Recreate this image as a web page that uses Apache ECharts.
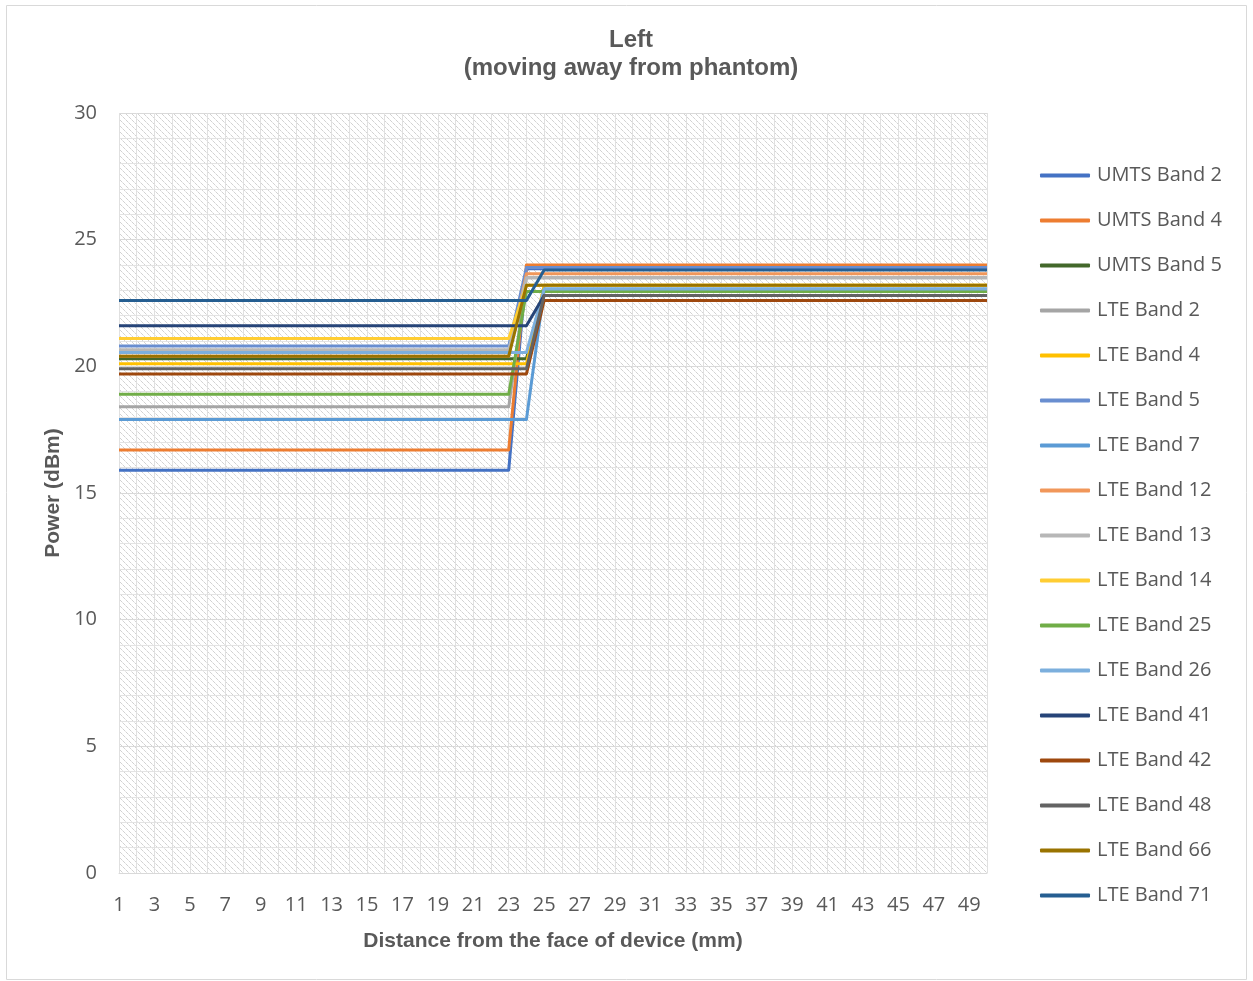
<!DOCTYPE html>
<html>
<head>
<meta charset="utf-8">
<script src="https://cdn.jsdelivr.net/npm/echarts@6/dist/echarts.min.js"></script>
<style>
  html, body { margin: 0; padding: 0; background: #ffffff; }
  #chart { width: 1253px; height: 981px; }
</style>
</head>
<body>
<div id="chart"></div>
<script>
// Distance from the face of the device, in mm
const distances = [
  1, 2, 3, 4, 5, 6, 7, 8, 9, 10,
  11, 12, 13, 14, 15, 16, 17, 18, 19, 20,
  21, 22, 23, 24, 25, 26, 27, 28, 29, 30,
  31, 32, 33, 34, 35, 36, 37, 38, 39, 40,
  41, 42, 43, 44, 45, 46, 47, 48, 49, 50
];

// Measured output power (dBm) per band at each distance
const umtsBand2 = [
  15.9, 15.9, 15.9, 15.9, 15.9, 15.9, 15.9, 15.9, 15.9, 15.9,
  15.9, 15.9, 15.9, 15.9, 15.9, 15.9, 15.9, 15.9, 15.9, 15.9,
  15.9, 15.9, 15.9, 23.85, 23.85, 23.85, 23.85, 23.85, 23.85, 23.85,
  23.85, 23.85, 23.85, 23.85, 23.85, 23.85, 23.85, 23.85, 23.85, 23.85,
  23.85, 23.85, 23.85, 23.85, 23.85, 23.85, 23.85, 23.85, 23.85, 23.85
];
const umtsBand4 = [
  16.7, 16.7, 16.7, 16.7, 16.7, 16.7, 16.7, 16.7, 16.7, 16.7,
  16.7, 16.7, 16.7, 16.7, 16.7, 16.7, 16.7, 16.7, 16.7, 16.7,
  16.7, 16.7, 16.7, 24.0, 24.0, 24.0, 24.0, 24.0, 24.0, 24.0,
  24.0, 24.0, 24.0, 24.0, 24.0, 24.0, 24.0, 24.0, 24.0, 24.0,
  24.0, 24.0, 24.0, 24.0, 24.0, 24.0, 24.0, 24.0, 24.0, 24.0
];
const umtsBand5 = [
  20.3, 20.3, 20.3, 20.3, 20.3, 20.3, 20.3, 20.3, 20.3, 20.3,
  20.3, 20.3, 20.3, 20.3, 20.3, 20.3, 20.3, 20.3, 20.3, 20.3,
  20.3, 20.3, 20.3, 20.3, 23.0, 23.0, 23.0, 23.0, 23.0, 23.0,
  23.0, 23.0, 23.0, 23.0, 23.0, 23.0, 23.0, 23.0, 23.0, 23.0,
  23.0, 23.0, 23.0, 23.0, 23.0, 23.0, 23.0, 23.0, 23.0, 23.0
];
const lteBand2 = [
  18.4, 18.4, 18.4, 18.4, 18.4, 18.4, 18.4, 18.4, 18.4, 18.4,
  18.4, 18.4, 18.4, 18.4, 18.4, 18.4, 18.4, 18.4, 18.4, 18.4,
  18.4, 18.4, 18.4, 23.5, 23.5, 23.5, 23.5, 23.5, 23.5, 23.5,
  23.5, 23.5, 23.5, 23.5, 23.5, 23.5, 23.5, 23.5, 23.5, 23.5,
  23.5, 23.5, 23.5, 23.5, 23.5, 23.5, 23.5, 23.5, 23.5, 23.5
];
const lteBand4 = [
  20.1, 20.1, 20.1, 20.1, 20.1, 20.1, 20.1, 20.1, 20.1, 20.1,
  20.1, 20.1, 20.1, 20.1, 20.1, 20.1, 20.1, 20.1, 20.1, 20.1,
  20.1, 20.1, 20.1, 20.1, 23.2, 23.2, 23.2, 23.2, 23.2, 23.2,
  23.2, 23.2, 23.2, 23.2, 23.2, 23.2, 23.2, 23.2, 23.2, 23.2,
  23.2, 23.2, 23.2, 23.2, 23.2, 23.2, 23.2, 23.2, 23.2, 23.2
];
const lteBand5 = [
  20.8, 20.8, 20.8, 20.8, 20.8, 20.8, 20.8, 20.8, 20.8, 20.8,
  20.8, 20.8, 20.8, 20.8, 20.8, 20.8, 20.8, 20.8, 20.8, 20.8,
  20.8, 20.8, 20.8, 23.9, 23.9, 23.9, 23.9, 23.9, 23.9, 23.9,
  23.9, 23.9, 23.9, 23.9, 23.9, 23.9, 23.9, 23.9, 23.9, 23.9,
  23.9, 23.9, 23.9, 23.9, 23.9, 23.9, 23.9, 23.9, 23.9, 23.9
];
const lteBand7 = [
  17.9, 17.9, 17.9, 17.9, 17.9, 17.9, 17.9, 17.9, 17.9, 17.9,
  17.9, 17.9, 17.9, 17.9, 17.9, 17.9, 17.9, 17.9, 17.9, 17.9,
  17.9, 17.9, 17.9, 17.9, 23.05, 23.05, 23.05, 23.05, 23.05, 23.05,
  23.05, 23.05, 23.05, 23.05, 23.05, 23.05, 23.05, 23.05, 23.05, 23.05,
  23.05, 23.05, 23.05, 23.05, 23.05, 23.05, 23.05, 23.05, 23.05, 23.05
];
const lteBand12 = [
  20.4, 20.4, 20.4, 20.4, 20.4, 20.4, 20.4, 20.4, 20.4, 20.4,
  20.4, 20.4, 20.4, 20.4, 20.4, 20.4, 20.4, 20.4, 20.4, 20.4,
  20.4, 20.4, 20.4, 23.65, 23.65, 23.65, 23.65, 23.65, 23.65, 23.65,
  23.65, 23.65, 23.65, 23.65, 23.65, 23.65, 23.65, 23.65, 23.65, 23.65,
  23.65, 23.65, 23.65, 23.65, 23.65, 23.65, 23.65, 23.65, 23.65, 23.65
];
const lteBand13 = [
  20.65, 20.65, 20.65, 20.65, 20.65, 20.65, 20.65, 20.65, 20.65, 20.65,
  20.65, 20.65, 20.65, 20.65, 20.65, 20.65, 20.65, 20.65, 20.65, 20.65,
  20.65, 20.65, 20.65, 23.5, 23.5, 23.5, 23.5, 23.5, 23.5, 23.5,
  23.5, 23.5, 23.5, 23.5, 23.5, 23.5, 23.5, 23.5, 23.5, 23.5,
  23.5, 23.5, 23.5, 23.5, 23.5, 23.5, 23.5, 23.5, 23.5, 23.5
];
const lteBand14 = [
  21.1, 21.1, 21.1, 21.1, 21.1, 21.1, 21.1, 21.1, 21.1, 21.1,
  21.1, 21.1, 21.1, 21.1, 21.1, 21.1, 21.1, 21.1, 21.1, 21.1,
  21.1, 21.1, 21.1, 23.2, 23.2, 23.2, 23.2, 23.2, 23.2, 23.2,
  23.2, 23.2, 23.2, 23.2, 23.2, 23.2, 23.2, 23.2, 23.2, 23.2,
  23.2, 23.2, 23.2, 23.2, 23.2, 23.2, 23.2, 23.2, 23.2, 23.2
];
const lteBand25 = [
  18.9, 18.9, 18.9, 18.9, 18.9, 18.9, 18.9, 18.9, 18.9, 18.9,
  18.9, 18.9, 18.9, 18.9, 18.9, 18.9, 18.9, 18.9, 18.9, 18.9,
  18.9, 18.9, 18.9, 22.95, 22.95, 22.95, 22.95, 22.95, 22.95, 22.95,
  22.95, 22.95, 22.95, 22.95, 22.95, 22.95, 22.95, 22.95, 22.95, 22.95,
  22.95, 22.95, 22.95, 22.95, 22.95, 22.95, 22.95, 22.95, 22.95, 22.95
];
const lteBand26 = [
  20.55, 20.55, 20.55, 20.55, 20.55, 20.55, 20.55, 20.55, 20.55, 20.55,
  20.55, 20.55, 20.55, 20.55, 20.55, 20.55, 20.55, 20.55, 20.55, 20.55,
  20.55, 20.55, 20.55, 20.55, 23.05, 23.05, 23.05, 23.05, 23.05, 23.05,
  23.05, 23.05, 23.05, 23.05, 23.05, 23.05, 23.05, 23.05, 23.05, 23.05,
  23.05, 23.05, 23.05, 23.05, 23.05, 23.05, 23.05, 23.05, 23.05, 23.05
];
const lteBand41 = [
  21.6, 21.6, 21.6, 21.6, 21.6, 21.6, 21.6, 21.6, 21.6, 21.6,
  21.6, 21.6, 21.6, 21.6, 21.6, 21.6, 21.6, 21.6, 21.6, 21.6,
  21.6, 21.6, 21.6, 21.6, 22.8, 22.8, 22.8, 22.8, 22.8, 22.8,
  22.8, 22.8, 22.8, 22.8, 22.8, 22.8, 22.8, 22.8, 22.8, 22.8,
  22.8, 22.8, 22.8, 22.8, 22.8, 22.8, 22.8, 22.8, 22.8, 22.8
];
const lteBand42 = [
  19.7, 19.7, 19.7, 19.7, 19.7, 19.7, 19.7, 19.7, 19.7, 19.7,
  19.7, 19.7, 19.7, 19.7, 19.7, 19.7, 19.7, 19.7, 19.7, 19.7,
  19.7, 19.7, 19.7, 19.7, 22.6, 22.6, 22.6, 22.6, 22.6, 22.6,
  22.6, 22.6, 22.6, 22.6, 22.6, 22.6, 22.6, 22.6, 22.6, 22.6,
  22.6, 22.6, 22.6, 22.6, 22.6, 22.6, 22.6, 22.6, 22.6, 22.6
];
const lteBand48 = [
  19.9, 19.9, 19.9, 19.9, 19.9, 19.9, 19.9, 19.9, 19.9, 19.9,
  19.9, 19.9, 19.9, 19.9, 19.9, 19.9, 19.9, 19.9, 19.9, 19.9,
  19.9, 19.9, 19.9, 19.9, 22.8, 22.8, 22.8, 22.8, 22.8, 22.8,
  22.8, 22.8, 22.8, 22.8, 22.8, 22.8, 22.8, 22.8, 22.8, 22.8,
  22.8, 22.8, 22.8, 22.8, 22.8, 22.8, 22.8, 22.8, 22.8, 22.8
];
const lteBand66 = [
  20.4, 20.4, 20.4, 20.4, 20.4, 20.4, 20.4, 20.4, 20.4, 20.4,
  20.4, 20.4, 20.4, 20.4, 20.4, 20.4, 20.4, 20.4, 20.4, 20.4,
  20.4, 20.4, 20.4, 23.2, 23.2, 23.2, 23.2, 23.2, 23.2, 23.2,
  23.2, 23.2, 23.2, 23.2, 23.2, 23.2, 23.2, 23.2, 23.2, 23.2,
  23.2, 23.2, 23.2, 23.2, 23.2, 23.2, 23.2, 23.2, 23.2, 23.2
];
const lteBand71 = [
  22.6, 22.6, 22.6, 22.6, 22.6, 22.6, 22.6, 22.6, 22.6, 22.6,
  22.6, 22.6, 22.6, 22.6, 22.6, 22.6, 22.6, 22.6, 22.6, 22.6,
  22.6, 22.6, 22.6, 22.6, 23.8, 23.8, 23.8, 23.8, 23.8, 23.8,
  23.8, 23.8, 23.8, 23.8, 23.8, 23.8, 23.8, 23.8, 23.8, 23.8,
  23.8, 23.8, 23.8, 23.8, 23.8, 23.8, 23.8, 23.8, 23.8, 23.8
];

const bandNames = [
  'UMTS Band 2', 'UMTS Band 4', 'UMTS Band 5', 'LTE Band 2', 'LTE Band 4',
  'LTE Band 5', 'LTE Band 7', 'LTE Band 12', 'LTE Band 13', 'LTE Band 14',
  'LTE Band 25', 'LTE Band 26', 'LTE Band 41', 'LTE Band 42', 'LTE Band 48',
  'LTE Band 66', 'LTE Band 71'
];
const bandValues = [
  umtsBand2, umtsBand4, umtsBand5, lteBand2, lteBand4,
  lteBand5, lteBand7, lteBand12, lteBand13, lteBand14,
  lteBand25, lteBand26, lteBand41, lteBand42, lteBand48,
  lteBand66, lteBand71
];
const bandColors = [
  '#4472C4', '#ED7D31', '#43682B', '#A5A5A5', '#FFC000',
  '#698ED0', '#5B9BD5', '#F1975A', '#B7B7B7', '#FFCD33',
  '#70AD47', '#7CAFDD', '#264478', '#9E480E', '#636363',
  '#997300', '#255E91'
];

// Light diagonal hatch used to fill the plot area
function makeHatch() {
  const c = document.createElement('canvas');
  c.width = 6; c.height = 6;
  const g = c.getContext('2d');
  g.fillStyle = '#ffffff';
  g.fillRect(0, 0, 6, 6);
  for (let i = 0; i < 6; i++) {
    g.fillStyle = (i % 3 === 2) ? '#e6e6e6' : '#d2d2d2';
    g.fillRect(i, i, 1, 1);
  }
  return c;
}

const textColor = '#595959';
const chart = echarts.init(document.getElementById('chart'), null, { renderer: 'canvas' });

chart.setOption({
  animation: false,
  color: bandColors,
  graphic: [
    {
      type: 'rect',
      shape: { x: 6.5, y: 5.5, width: 1240, height: 974 },
      style: { fill: 'none', stroke: '#d9d9d9', lineWidth: 1 },
      silent: true
    },
    {
      // Chart title, two centred lines
      type: 'text',
      x: 631,
      y: 26,
      silent: true,
      style: {
        text: 'Left\n(moving away from phantom)',
        align: 'center',
        verticalAlign: 'top',
        fill: textColor,
        fontFamily: 'Liberation Sans',
        fontWeight: 'bold',
        fontSize: 24,
        lineHeight: 28
      }
    }
  ],
  legend: {
    orient: 'vertical',
    left: 1035,
    top: 160,
    icon: 'roundRect',
    itemWidth: 50,
    itemHeight: 4,
    itemGap: 24,
    data: bandNames,
    textStyle: {
      color: textColor,
      fontFamily: 'Open Sans',
      fontSize: 20,
      lineHeight: 21,
      padding: [0, 0, 0, 2]
    }
  },
  grid: {
    left: 119,
    right: 266,
    top: 113,
    bottom: 108,
    show: true,
    borderWidth: 0,
    backgroundColor: { image: makeHatch(), repeat: 'repeat' }
  },
  xAxis: {
    type: 'category',
    data: distances,
    boundaryGap: false,
    name: 'Distance from the face of device (mm)',
    nameLocation: 'middle',
    nameGap: 58,
    nameTextStyle: {
      color: textColor,
      fontFamily: 'Liberation Sans',
      fontWeight: 'bold',
      fontSize: 21
    },
    axisLine: { lineStyle: { color: '#d9d9d9', width: 1 } },
    axisTick: { show: false },
    axisLabel: {
      interval: 1,
      color: textColor,
      fontFamily: 'Open Sans',
      fontSize: 20,
      margin: 22
    },
    splitLine: { show: true, interval: 0, lineStyle: { color: '#e0e0e0', width: 1 } }
  },
  yAxis: {
    type: 'value',
    min: 0,
    max: 30,
    interval: 5,
    name: 'Power (dBm)',
    nameLocation: 'middle',
    nameGap: 54,
    nameTextStyle: {
      color: textColor,
      fontFamily: 'Liberation Sans',
      fontWeight: 'bold',
      fontSize: 21
    },
    axisLine: { show: false },
    axisTick: { show: false },
    axisLabel: {
      color: textColor,
      fontFamily: 'Open Sans',
      fontSize: 20,
      margin: 22
    },
    splitLine: { show: true, lineStyle: { color: '#d9d9d9', width: 1 } },
    minorTick: { show: false, splitNumber: 5 },
    minorSplitLine: { show: true, lineStyle: { color: '#e3e3e3', width: 1 } }
  },
  series: bandNames.map((name, i) => ({
    name: name,
    type: 'line',
    data: bandValues[i],
    symbol: 'none',
    lineStyle: { width: 3, color: bandColors[i], join: 'round' },
    itemStyle: { color: bandColors[i] },
    emphasis: { disabled: true }
  }))
});
</script>
</body>
</html>
